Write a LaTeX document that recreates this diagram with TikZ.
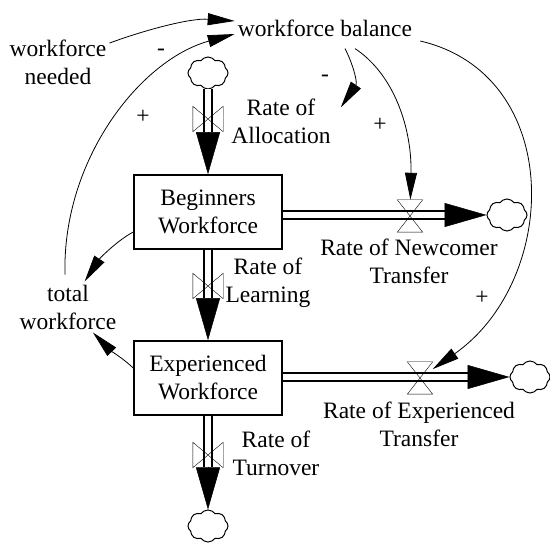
\documentclass[tikz,border=0pt]{standalone}
\usepackage{fontspec}
\setmainfont{LiberationSerif}[Extension=.ttf,UprightFont=*-Regular,BoldFont=*-Bold]
\usetikzlibrary{arrows.meta,shapes.symbols}

\begin{document}
\begin{tikzpicture}[x=1pt,y=-1pt,
  every node/.style={font=\fontsize{23.5}{28}\selectfont,inner sep=3pt},
  stock/.style={draw,shape=rectangle,line width=1.5pt,minimum width=148pt,minimum height=74pt,align=center},
  varname/.style={align=center},
  rate/.style={minimum width=30pt,minimum height=25pt,inner sep=0pt},
  hrate/.style={minimum width=25pt,minimum height=32pt,inner sep=0pt},
  puff/.style={draw,shape=cloud,cloud puffs=8,cloud puff arc=110,aspect=1.2,minimum width=40pt,minimum height=32pt,inner sep=0pt,line width=1pt},
  pipe/.style={double,double distance=6.5pt,line width=1.6pt},
  flowhead/.style={-{Triangle[length=42pt,width=24pt]},line width=0.5pt},
  link/.style={-{Triangle[length=27pt,width=12pt]},line width=0.8pt}]
\useasboundingbox (0,0) rectangle (550,545);

\node (balance) at (325,28) {workforce balance};
\node (needed) [varname] at (58,62) {workforce\\needed};
\node (total) [varname] at (68,307) {total\\workforce};
\node (beginners) [stock] at (208,212) {Beginners\\Workforce};
\node (experienced) [stock] at (208,378) {Experienced\\Workforce};

\node (alloccloud) [puff] at (208,73) {};
\node (allocvalve) [rate] at (208,119) {};
\node (allocname) [varname] at (281,121) {Rate of\\Allocation};
\coordinate (allochead) at ([yshift=42pt]beginners.north);

\node (learnvalve) [rate] at (208,286) {};
\node (learnname) [varname] at (268,283) {Rate of\\Learning};
\coordinate (learnhead) at ([yshift=42pt]experienced.north);

\node (turnvalve) [rate] at (208,455) {};
\node (turnname) [varname] at (276,453) {Rate of\\Turnover};
\node (turncloud) [puff] at (208,526) {};
\coordinate (turnhead) at ([yshift=42pt]turncloud.north);

\node (newvalve) [hrate] at (410,216) {};
\node (newname) [varname] at (409,261) {Rate of Newcomer\\Transfer};
\node (newcloud) [puff] at (507,215) {};
\coordinate (newhead) at ([xshift=-42pt]newcloud.west);

\node (expvalve) [hrate] at (420,378) {};
\node (expname) [varname] at (419,424) {Rate of Experienced\\Transfer};
\node (expcloud) [puff] at (530,377) {};
\coordinate (exphead) at ([xshift=-42pt]expcloud.west);

\node (minusneeded) at (161,52) {-};
\node (plustotal) at (143,117) {+};
\node (minusalloc) at (325,78) {-};
\node (plusnew) at (380,125) {+};
\node (plusexp) at (482,298) {+};

\draw[pipe] (alloccloud) -- (allochead);
\draw[pipe] (beginners) -- (learnhead);
\draw[pipe] (experienced) -- (turnhead);
\draw[pipe] (beginners.east |- newhead) -- (newhead);
\draw[pipe] (experienced.east |- exphead) -- (exphead);

\draw[flowhead] (allochead) -- (beginners);
\draw[flowhead] (learnhead) -- (experienced);
\draw[flowhead] (turnhead) -- (turncloud);
\draw[flowhead] (newhead) -- (newcloud);
\draw[flowhead] (exphead) -- (expcloud);

\foreach \v in {allocvalve,learnvalve,turnvalve}
  \draw (\v.north west) -- (\v.south east) -- (\v.north east) -- (\v.south west) -- cycle;
\foreach \v in {newvalve,expvalve}
  \draw (\v.north west) -- (\v.north east) -- (\v.south west) -- (\v.south east) -- cycle;

\draw[link] (needed) .. controls (145,30) and (190,18) .. ([yshift=7pt]balance.west);
\draw[link] ([xshift=-3pt,yshift=7pt]total.north) .. controls (62,160) and (140,60) .. ([yshift=-6pt]balance.west);
\draw[link] ([xshift=20pt,yshift=-9pt]balance.south) .. controls (352,62) and (358,82) .. ([xshift=7pt,yshift=-12pt]allocname.north east);
\draw[link] ([xshift=30pt,yshift=-9pt]balance.south) .. controls (395,75) and (412,130) .. (newvalve);
\draw[link] ([xshift=5pt,yshift=-13pt]balance.east) .. controls (565,75) and (560,280) .. (expvalve);
\draw[link] ([yshift=-20pt]beginners.west) .. controls (118,240) and (100,258) .. (total);
\draw[link] ([yshift=10pt]experienced.west) .. controls (125,360) and (110,350) .. (total);

\end{tikzpicture}
\end{document}
